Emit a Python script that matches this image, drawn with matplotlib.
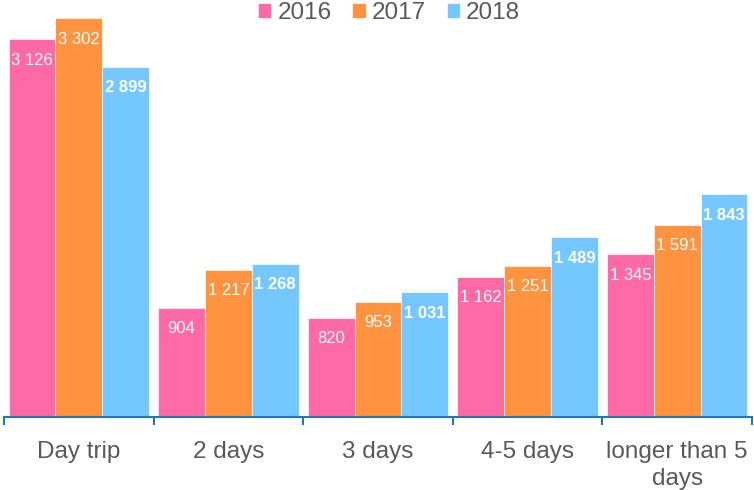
import matplotlib.pyplot as plt
import numpy as np

plt.rcParams['font.family'] = ['Liberation Sans', 'DejaVu Sans']

categories = ['Day trip', '2 days', '3 days', '4-5 days', 'longer than 5\ndays']
years = ['2016', '2017', '2018']
v2016 = [3126, 904, 820, 1162, 1345]
v2017 = [3302, 1217, 953, 1251, 1591]
v2018 = [2899, 1268, 1031, 1489, 1843]

colors = ['#FF69A5', '#FF9340', '#75C7FF']
grey = '#595959'
axis_blue = '#1F77BF'

def fmt(v):
    return f'{v:,}'.replace(',', ' ')

fig = plt.figure(figsize=(7.54, 4.9), dpi=100)
ax = fig.add_axes([4 / 754, 73 / 490, 748 / 754, 417 / 490])

x = np.arange(len(categories))
w = 0.313
series = [v2016, v2017, v2018]
for i, (vals, col, yr) in enumerate(zip(series, colors, years)):
    pos = x + (i - 1) * w
    bars = ax.bar(pos, vals, width=w, color=col, edgecolor='white',
                  linewidth=0.5, label=yr)
    for b, v in zip(bars, vals):
        ax.annotate(fmt(v), (b.get_x() + b.get_width() / 2, v),
                    xytext=(0, -21), textcoords='offset pixels',
                    ha='center', va='center', color='white', fontsize=12,
                    fontweight='bold' if yr == '2018' else 'normal')

ax.set_xlim(-0.5, len(categories) - 0.5)
ax.set_ylim(0, 3451)
ax.set_yticks([])
for s in ['top', 'right', 'left']:
    ax.spines[s].set_visible(False)
ax.spines['bottom'].set_color(axis_blue)
ax.spines['bottom'].set_linewidth(1.5)

ax.set_xticks(x)
ax.set_xticklabels(categories, fontsize=17.5, color=grey, linespacing=1.3)
ax.tick_params(axis='x', which='major', length=0, pad=17)
ax.set_xticks(np.arange(-0.5, len(categories)), minor=True)
ax.tick_params(axis='x', which='minor', length=6, width=1.5, color=axis_blue,
               direction='out')

leg = fig.legend(loc='upper center', bbox_to_anchor=(0.516, 1.04), ncol=3,
                 frameon=False, fontsize=17.5, handlelength=0.55,
                 handleheight=0.55, handletextpad=0.25, columnspacing=0.85)
for t in leg.get_texts():
    t.set_color(grey)

fig.savefig('out.png', dpi=100)
